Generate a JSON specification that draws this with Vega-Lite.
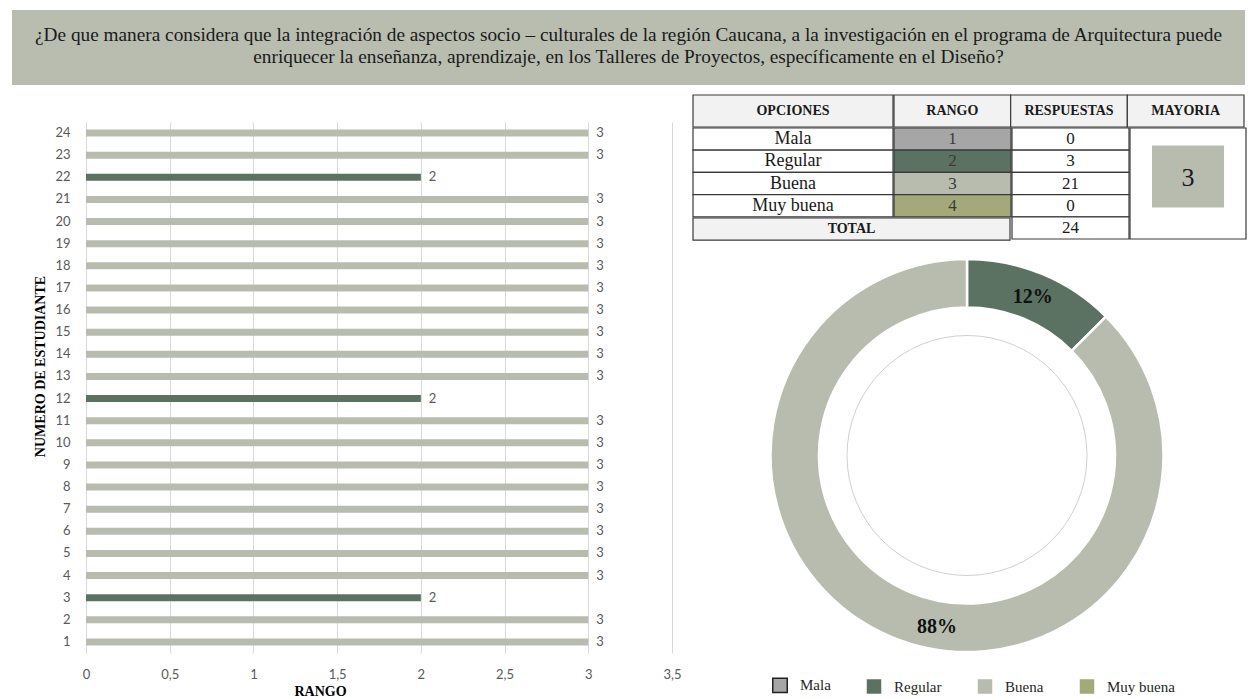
{
  "$schema": "https://vega.github.io/schema/vega-lite/v6.json",
  "padding": {"left": 12, "top": 10, "right": 0, "bottom": 0},
  "background": "white",
  "config": {"view": {"stroke": null}, "concat": {"spacing": 0}, "font": "Liberation Serif"},
  "datasets": {
    "pregunta": [{"texto": "¿De que manera considera que la integración de aspectos socio – culturales de la región Caucana, a la investigación en el programa de Arquitectura puede\nenriquecer la enseñanza, aprendizaje, en los Talleres de Proyectos, específicamente en el Diseño?"}],
    "estudiantes": [
      {"estudiante": 1, "rango": 3, "opcion": "Buena"},
      {"estudiante": 2, "rango": 3, "opcion": "Buena"},
      {"estudiante": 3, "rango": 2, "opcion": "Regular"},
      {"estudiante": 4, "rango": 3, "opcion": "Buena"},
      {"estudiante": 5, "rango": 3, "opcion": "Buena"},
      {"estudiante": 6, "rango": 3, "opcion": "Buena"},
      {"estudiante": 7, "rango": 3, "opcion": "Buena"},
      {"estudiante": 8, "rango": 3, "opcion": "Buena"},
      {"estudiante": 9, "rango": 3, "opcion": "Buena"},
      {"estudiante": 10, "rango": 3, "opcion": "Buena"},
      {"estudiante": 11, "rango": 3, "opcion": "Buena"},
      {"estudiante": 12, "rango": 2, "opcion": "Regular"},
      {"estudiante": 13, "rango": 3, "opcion": "Buena"},
      {"estudiante": 14, "rango": 3, "opcion": "Buena"},
      {"estudiante": 15, "rango": 3, "opcion": "Buena"},
      {"estudiante": 16, "rango": 3, "opcion": "Buena"},
      {"estudiante": 17, "rango": 3, "opcion": "Buena"},
      {"estudiante": 18, "rango": 3, "opcion": "Buena"},
      {"estudiante": 19, "rango": 3, "opcion": "Buena"},
      {"estudiante": 20, "rango": 3, "opcion": "Buena"},
      {"estudiante": 21, "rango": 3, "opcion": "Buena"},
      {"estudiante": 22, "rango": 2, "opcion": "Regular"},
      {"estudiante": 23, "rango": 3, "opcion": "Buena"},
      {"estudiante": 24, "rango": 3, "opcion": "Buena"}
    ],
    "encabezado": [{"columna": "OPCIONES"}, {"columna": "RANGO"}, {"columna": "RESPUESTAS"}, {"columna": "MAYORIA"}],
    "opciones": [
      {"opcion": "Mala", "rango": 1, "respuestas": 0},
      {"opcion": "Regular", "rango": 2, "respuestas": 3},
      {"opcion": "Buena", "rango": 3, "respuestas": 21},
      {"opcion": "Muy buena", "rango": 4, "respuestas": 0}
    ],
    "conteos": [
      {"fila": "Mala", "respuestas": 0},
      {"fila": "Regular", "respuestas": 3},
      {"fila": "Buena", "respuestas": 21},
      {"fila": "Muy buena", "respuestas": 0},
      {"fila": "TOTAL", "respuestas": 24}
    ],
    "resumen": [{"total": 24, "mayoria": 3}],
    "donut": [
      {"opcion": "Regular", "rango": 2, "respuestas": 3, "etiqueta": "12%"},
      {"opcion": "Buena", "rango": 3, "respuestas": 21, "etiqueta": "88%"}
    ]
  },
  "spacing": 9,
  "resolve": {"scale": {"color": "independent"}, "legend": {"color": "independent"}},
  "vconcat": [
    {
      "width": 1233, "height": 75,
      "view": {"fill": "#b8bdb0", "stroke": null},
      "data": {"name": "pregunta"},
      "mark": {"type": "text", "lineBreak": "\n", "font": "Liberation Serif", "fontSize": 19.3, "lineHeight": 22, "dy": -12.5, "align": "center", "baseline": "middle", "color": "#1a1a1a"},
      "encoding": {"text": {"field": "texto"}}
    },
    {
      "spacing": 10,
      "resolve": {"scale": {"color": "independent"}, "legend": {"color": "independent"}},
      "hconcat": [
        {"width": 11, "height": 20, "data": {"values": []}, "mark": "text", "encoding": {}},
        {
          "vconcat": [
            {"width": 586, "height": 27, "data": {"values": []}, "mark": "text", "encoding": {}},
            {
              "width": 586, "height": 531,
              "data": {"name": "estudiantes"},
              "encoding": {
                "y": {"field": "estudiante", "type": "ordinal", "sort": "descending",
                  "scale": {"paddingInner": 0.68, "paddingOuter": 0.34},
                  "axis": {"title": "NUMERO DE ESTUDIANTE", "titleFont": "Liberation Serif", "titleFontSize": 14, "titleFontWeight": "bold", "titleColor": "#000000", "titlePadding": 7, "titleY": 244,
                    "labelFont": "Lato", "labelFontSize": 13, "labelColor": "#595959", "labelPadding": 16, "ticks": false, "tickSize": 0, "domain": false, "grid": false}},
                "x": {"field": "rango", "type": "quantitative",
                  "scale": {"domain": [0, 3.5], "nice": false},
                  "axis": {"title": "RANGO", "values": [0, 0.5, 1, 1.5, 2, 2.5, 3, 3.5], "format": ".1~f", "labelExpr": "replace(datum.label, '.', ',')",
                    "grid": true, "gridColor": "#d9d9d9", "domain": false, "ticks": false, "tickSize": 0, "labelPadding": 15, "labelFlush": false, "labelOverlap": false,
                    "labelFont": "Lato", "labelFontSize": 13, "labelColor": "#595959",
                    "titleFont": "Liberation Serif", "titleFontWeight": "bold", "titleFontSize": 14, "titleColor": "#000000", "titlePadding": 3, "titleX": 234}}
              },
              "layer": [
                {"mark": {"type": "bar"},
                 "encoding": {"color": {"field": "opcion", "type": "nominal", "scale": {"domain": ["Mala", "Regular", "Buena", "Muy buena"], "range": ["#a6a6a6", "#5b7262", "#b7bcaf", "#a4a97a"]}, "legend": null}}},
                {"mark": {"type": "text", "align": "left", "dx": 8, "font": "Lato", "fontSize": 13, "color": "#595959"},
                 "encoding": {"text": {"field": "rango", "type": "quantitative"}}}
              ]
            }
          ]
        },
        {
          "spacing": 11,
          "resolve": {"scale": {"color": "independent"}, "legend": {"color": "independent"}},
          "vconcat": [
            {
              "spacing": -1.2,
              "vconcat": [
                {
                  "spacing": -1.2,
                  "hconcat": [
                    {
                      "width": 200, "height": 32,
                      "data": {"name": "encabezado"},
                      "transform": [{"filter": "datum.columna == 'OPCIONES'"}],
                      "layer": [
                        {"mark": {"type": "rect", "fill": "#f2f2f2", "stroke": "#3a3a3a", "strokeWidth": 1.2}, "encoding": {}},
                        {"mark": {"type": "text", "font": "Liberation Serif", "fontSize": 14, "fontWeight": "bold", "color": "#1a1a1a"}, "encoding": {"text": {"field": "columna"}}}
                      ]
                    },
                    {
                      "width": 350, "height": 32,
                      "data": {"name": "encabezado"},
                      "transform": [{"filter": "datum.columna != 'OPCIONES'"}],
                      "encoding": {"x": {"field": "columna", "type": "nominal", "scale": {"domain": ["RANGO", "RESPUESTAS", "MAYORIA"], "paddingInner": 0, "paddingOuter": 0}, "axis": null}},
                      "layer": [
                        {"mark": {"type": "rect", "fill": "#f2f2f2", "stroke": "#3a3a3a", "strokeWidth": 1.2}},
                        {"mark": {"type": "text", "font": "Liberation Serif", "fontSize": 14, "fontWeight": "bold", "color": "#1a1a1a"}, "encoding": {"text": {"field": "columna"}}}
                      ]
                    }
                  ]
                },
                {
                  "spacing": -1.2,
                  "hconcat": [
                    {
                      "spacing": -1.2,
                      "vconcat": [
                        {
                          "spacing": -1.2,
                          "hconcat": [
                            {
                              "width": 200, "height": 88.8,
                              "data": {"name": "opciones"},
                              "encoding": {"y": {"field": "opcion", "type": "nominal", "scale": {"domain": ["Mala", "Regular", "Buena", "Muy buena"], "paddingInner": 0, "paddingOuter": 0}, "axis": null}},
                              "layer": [
                                {"mark": {"type": "rect", "fill": "white", "stroke": "#3a3a3a", "strokeWidth": 1.2}},
                                {"mark": {"type": "text", "font": "Liberation Serif", "fontSize": 18, "color": "#1a1a1a"}, "encoding": {"text": {"field": "opcion"}}}
                              ]
                            },
                            {
                              "width": 117, "height": 88.8,
                              "data": {"name": "opciones"},
                              "encoding": {"y": {"field": "opcion", "type": "nominal", "scale": {"domain": ["Mala", "Regular", "Buena", "Muy buena"], "paddingInner": 0, "paddingOuter": 0}, "axis": null}},
                              "layer": [
                                {"mark": {"type": "rect", "stroke": "#3a3a3a", "strokeWidth": 1.2, "opacity": 1},
                                 "encoding": {"color": {"field": "opcion", "type": "nominal", "scale": {"domain": ["Mala", "Regular", "Buena", "Muy buena"], "range": ["#a6a6a6", "#5b7262", "#b7bcaf", "#a4a97a"]}, "legend": null}}},
                                {"mark": {"type": "text", "font": "Liberation Serif", "fontSize": 17, "color": "#3a3a3a"}, "encoding": {"text": {"field": "rango", "type": "quantitative"}}}
                              ]
                            }
                          ]
                        },
                        {
                          "width": 317, "height": 22.2,
                          "data": {"name": "resumen"},
                          "layer": [
                            {"mark": {"type": "rect", "fill": "#f2f2f2", "stroke": "#3a3a3a", "strokeWidth": 1.2}, "encoding": {}},
                            {"mark": {"type": "text", "font": "Liberation Serif", "fontSize": 14, "fontWeight": "bold", "color": "#1a1a1a"}, "encoding": {"text": {"value": "TOTAL"}}}
                          ]
                        }
                      ]
                    },
                    {
                      "width": 117, "height": 111,
                      "data": {"name": "conteos"},
                      "encoding": {"y": {"field": "fila", "type": "nominal", "scale": {"domain": ["Mala", "Regular", "Buena", "Muy buena", "TOTAL"], "paddingInner": 0, "paddingOuter": 0}, "axis": null}},
                      "layer": [
                        {"mark": {"type": "rect", "fill": "white", "stroke": "#3a3a3a", "strokeWidth": 1.2}},
                        {"mark": {"type": "text", "font": "Liberation Serif", "fontSize": 17, "color": "#1a1a1a"}, "encoding": {"text": {"field": "respuestas", "type": "quantitative"}}}
                      ]
                    },
                    {
                      "width": 116, "height": 111,
                      "data": {"name": "resumen"},
                      "layer": [
                        {"mark": {"type": "rect", "fill": "white", "stroke": "#3a3a3a", "strokeWidth": 1.2}, "encoding": {}},
                        {"mark": {"type": "point", "shape": "M-1,-0.86H1V0.86H-1Z", "size": 5184, "filled": true, "fill": "#b7bcaf", "opacity": 1, "yOffset": -7}, "encoding": {}},
                        {"mark": {"type": "text", "font": "Liberation Serif", "fontSize": 26, "color": "#1a1a1a", "dy": -6}, "encoding": {"text": {"field": "mayoria", "type": "quantitative"}}}
                      ]
                    }
                  ]
                }
              ]
            },
            {
              "width": 548, "height": 407,
              "data": {"name": "donut"},
              "layer": [
                {
                  "mark": {"type": "arc", "radius": 196.5, "innerRadius": 148, "stroke": "white", "strokeWidth": 2.5},
                  "encoding": {
                    "theta": {"field": "respuestas", "type": "quantitative", "stack": true},
                    "order": {"field": "rango", "type": "quantitative"},
                    "color": {"field": "opcion", "type": "nominal",
                      "scale": {"domain": ["Mala", "Regular", "Buena", "Muy buena"], "range": ["#a6a6a6", "#5b7262", "#b7bcaf", "#a4a97a"]},
                      "legend": {"title": null, "orient": "none", "legendX": 79, "legendY": 425, "direction": "horizontal", "symbolType": "square", "symbolSize": 210,
                        "labelFont": "Liberation Serif", "labelFontSize": 15, "labelColor": "#262626", "labelOffset": 12, "columnPadding": 35,
                        "symbolStrokeColor": "#222222", "symbolStrokeWidth": 1.5,
                        "encode": {"symbols": {"update": {"strokeOpacity": [{"test": "datum.value === 'Mala'", "value": 1}, {"value": 0}]}}}}}
                  }
                },
                {
                  "data": {"values": [{"anillo": "interior"}]},
                  "mark": {"type": "arc", "radius": 120, "innerRadius": 0, "theta": 0, "theta2": 6.2832, "fill": "transparent", "stroke": "#d0d0d0", "strokeWidth": 1},
                  "encoding": {}
                },
                {
                  "mark": {"type": "text", "radius": 172, "font": "Liberation Serif", "fontSize": 20, "fontWeight": "bold", "color": "#111111"},
                  "encoding": {
                    "theta": {"field": "respuestas", "type": "quantitative", "stack": true},
                    "order": {"field": "rango", "type": "quantitative"},
                    "text": {"condition": {"test": "datum.opcion == 'Regular'", "field": "etiqueta"}, "value": ""}
                  }
                },
                {
                  "mark": {"type": "text", "radius": 174, "thetaOffset": -0.22, "font": "Liberation Serif", "fontSize": 20, "fontWeight": "bold", "color": "#111111"},
                  "encoding": {
                    "theta": {"field": "respuestas", "type": "quantitative", "stack": true},
                    "order": {"field": "rango", "type": "quantitative"},
                    "text": {"condition": {"test": "datum.opcion == 'Buena'", "field": "etiqueta"}, "value": ""}
                  }
                }
              ]
            }
          ]
        }
      ]
    }
  ]
}
